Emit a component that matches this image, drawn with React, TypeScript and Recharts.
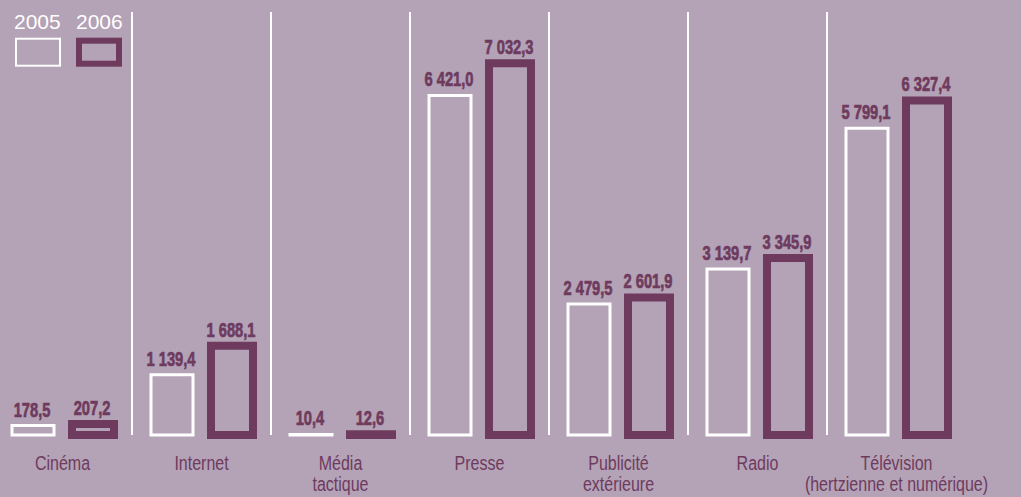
import { BarChart, Bar, XAxis, YAxis, ReferenceLine, LabelList } from "recharts"

const categories = [
  "Cinéma",
  "Internet",
  "Média\ntactique",
  "Presse",
  "Publicité\nextérieure",
  "Radio",
  "Télévision\n(hertzienne et numérique)",
]
const values2005 = [178.5, 1139.4, 10.4, 6421.0, 2479.5, 3139.7, 5799.1]
const values2006 = [207.2, 1688.1, 12.6, 7032.3, 2601.9, 3345.9, 6327.4]

const BG = "#b4a2b6"
const DARK = "#6e3b5e"
const SANS = '"Liberation Sans", Arial, Helvetica, sans-serif'

const series = [
  { key: "y2005", name: "2005", stroke: "#ffffff", width: 3, legendWidth: 2 },
  { key: "y2006", name: "2006", stroke: DARK, width: 8, legendWidth: 6 },
]

const data = categories.map((c, i) => ({ cat: c, y2005: values2005[i], y2006: values2006[i] }))

function fmt(v: number) {
  const [i, d] = v.toFixed(1).split(".")
  return i.replace(/\B(?=(\d{3})+(?!\d))/g, " ") + "," + d
}

// the original uses a condensed face: squeeze a regular one horizontally
function ValueLabel(props: any) {
  const { x, y, width, value } = props
  return (
    <g transform={`translate(${x + width / 2 - 1},${y - 9}) scale(0.7,1)`}>
      <text
        x={0}
        y={0}
        textAnchor="middle"
        fill={DARK}
        stroke={DARK}
        strokeWidth={0.7}
        fontFamily={SANS}
        fontWeight="bold"
        fontSize={21}
      >
        {fmt(Number(value))}
      </text>
    </g>
  )
}

function CategoryTick(props: any) {
  const { x, y, payload } = props
  const lines = String(payload.value).split("\n")
  return (
    <g transform={`translate(${x},${y + 35}) scale(0.8,1)`}>
      <text x={0} y={0} textAnchor="middle" fill={DARK} fontFamily={SANS} fontSize={20}>
        {lines.map((l, i) => (
          <tspan key={i} x={0} dy={i === 0 ? 0 : 21}>
            {l}
          </tspan>
        ))}
      </text>
    </g>
  )
}

export default function App() {
  return (
    <div
      style={{
        position: "absolute",
        left: 0,
        top: 0,
        width: 1021,
        height: 497,
        overflow: "hidden",
        background: BG,
      }}
    >
      <div style={{ position: "absolute", left: -7, top: 0 }}>
        <BarChart
          width={1040}
          height={497}
          data={data}
          margin={{ top: 12, right: 67, bottom: 0, left: 0 }}
          barSize={42}
          barGap={18}
        >
          <XAxis
            dataKey="cat"
            axisLine={false}
            tickLine={false}
            tickSize={0}
            tickMargin={0}
            height={62}
            interval={0}
            tick={<CategoryTick />}
          />
          <YAxis hide domain={[0, 8000]} />
          {categories.slice(1).map((c) => (
            <ReferenceLine key={c} x={c} position="start" stroke="#ffffff" strokeWidth={2} />
          ))}
          {series.map((s) => (
            <Bar
              key={s.key}
              dataKey={s.key}
              name={s.name}
              fill="none"
              stroke={s.stroke}
              strokeWidth={s.width}
              isAnimationActive={false}
            >
              <LabelList dataKey={s.key} content={<ValueLabel />} />
            </Bar>
          ))}
        </BarChart>
      </div>
      <svg style={{ position: "absolute", left: 0, top: 0 }} width={140} height={80}>
        {series.map((s, i) => (
          <g key={s.key}>
            <text x={14 + i * 62} y={29} fill="#ffffff" fontFamily={SANS} fontSize={21}>
              {s.name}
            </text>
            <rect
              x={15 + i * 61 + s.legendWidth / 2}
              y={37.7 + s.legendWidth / 2}
              width={46 - s.legendWidth}
              height={29 - s.legendWidth}
              fill="none"
              stroke={s.stroke}
              strokeWidth={s.legendWidth}
            />
          </g>
        ))}
      </svg>
    </div>
  )
}
